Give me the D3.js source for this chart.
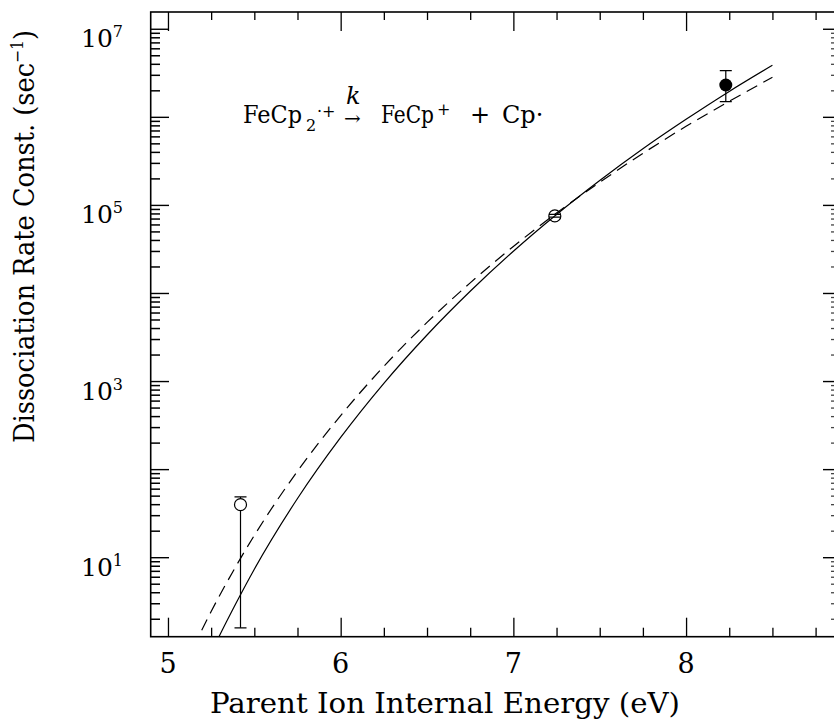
<!DOCTYPE html>
<html>
<head>
<meta charset="utf-8">
<script src="https://cdn.jsdelivr.net/npm/d3@7"></script>
<style>
  body { margin: 0; background: #fff; }
  text { font-family: "DejaVu Serif", serif; fill: #000; }
</style>
</head>
<body>
<script>
// Dissociation rate constant vs. internal energy (log y)
// ---------------------------------------------
var energy = [5.1, 5.25, 5.4, 5.5, 5.75, 6.0, 6.25, 6.5, 6.75, 7.0, 7.25, 7.5, 7.75, 8.0, 8.25, 8.5];
var solidK = [0.18, 0.83, 3.2, 7.4, 47, 232, 955, 3380, 1.06e4, 3.02e4, 7.9e4, 1.92e5, 4.4e5, 9.5e5, 1.97e6, 3.9e6];
var dashedK = [0.61, 2.45, 8.4, 17.9, 96, 411, 1490, 4690, 1.32e4, 3.42e4, 8.2e4, 1.83e5, 3.9e5, 7.9e5, 1.52e6, 2.85e6];

// measured points
var ptE = [5.42, 7.24, 8.23];
var ptK = [40, 7.6e4, 2.33e6];
var ptLo = [1.6, 7.35e4, 1.51e6];
var ptHi = [49, 7.9e4, 3.39e6];
var ptFilled = [false, false, true];

// ticks
var xMajor = [5, 6, 7, 8];
var xLabels = ['5', '6', '7', '8'];
var yMajor = [1e1, 1e2, 1e3, 1e4, 1e5, 1e6, 1e7];
var yDecades = [1, 1e1, 1e2, 1e3, 1e4, 1e5, 1e6, 1e7];
var yMult = [2, 3, 4, 5, 6, 7, 8, 9];
var yLabelExp = [1, 3, 5, 7];

var svgW = 834;
var svgH = 725;
var pLeft = 150.7, pRight = 841.5, pTop = 12, pBottom = 636.7;
var kLo = Math.pow(10, 0.103), kHi = Math.pow(10, 7.196);

var xs = d3.scaleLinear().domain([4.9, 8.9]).range([pLeft, pRight]);
var ys = d3.scaleLog().domain([kLo, kHi]).range([pBottom, pTop]);

var xMinor = d3.range(4.75, 9.0, 0.25).filter(function(d) {
  return d > 4.9 && d < 8.9 && xMajor.indexOf(d) < 0;
});
var yMinor = [];
yDecades.forEach(function(p) {
  yMult.forEach(function(mm) {
    var v = mm * p;
    if (v > kLo && v < kHi) yMinor.push(v);
  });
});

var svg = d3.select('body').append('svg').attr('width', svgW).attr('height', svgH);

svg.append('defs').append('clipPath').attr('id', 'plotclip')
  .append('rect').attr('x', pLeft).attr('y', pTop)
  .attr('width', pRight - pLeft).attr('height', pBottom - pTop);

// frame
svg.append('rect').attr('x', pLeft).attr('y', pTop)
  .attr('width', pRight - pLeft).attr('height', pBottom - pTop)
  .attr('fill', 'none').attr('stroke', '#000').attr('stroke-width', 1.6);

// x tick marks (inward, bottom and top)
function drawTicks(axisFn, scale, vals, size, tx, ty, col, sw) {
  var g = svg.append('g').attr('transform', 'translate(' + tx + ',' + ty + ')')
    .call(axisFn(scale).tickValues(vals).tickSizeInner(size).tickSizeOuter(0).tickFormat(function() { return ''; }));
  g.select('.domain').remove();
  g.selectAll('line').attr('stroke', col).attr('stroke-width', sw);
}
drawTicks(d3.axisBottom, xs, xMajor, -19, 0, pBottom, '#000', 1.3);
drawTicks(d3.axisBottom, xs, xMinor, -9, 0, pBottom, '#000', 1.3);
drawTicks(d3.axisTop, xs, xMajor, -19, 0, pTop, '#000', 1.3);
drawTicks(d3.axisTop, xs, xMinor, -8, 0, pTop, '#000', 1.3);

// x tick labels
svg.selectAll('text.xl').data(xMajor).enter().append('text')
  .attr('class', 'xl')
  .attr('x', function(d) { return xs(d); })
  .attr('y', 673)
  .attr('text-anchor', 'middle')
  .attr('font-size', '27px')
  .text(function(d, i) { return xLabels[i]; });

// y tick labels 10^n
var yl = svg.selectAll('text.yl').data(yLabelExp).enter().append('text')
  .attr('class', 'yl')
  .attr('x', 81)
  .attr('y', function(d) { return ys(Math.pow(10, d)) + 18; })
  .attr('font-size', '25px');
yl.append('tspan').text('10');
yl.append('tspan').attr('font-size', '16px').attr('dy', -10).text(function(d) { return d; });

// axis titles
svg.append('text')
  .attr('x', 210).attr('y', 713)
  .attr('font-size', '28px')
  .attr('textLength', 470).attr('lengthAdjust', 'spacingAndGlyphs')
  .text('Parent Ion Internal Energy (eV)');

var yt = svg.append('text')
  .attr('transform', 'translate(34,443) rotate(-90)')
  .attr('font-size', '28px')
  .attr('textLength', 413).attr('lengthAdjust', 'spacingAndGlyphs');
yt.append('tspan').text('Dissociation Rate Const. (sec');
yt.append('tspan').attr('font-size', '17px').attr('dy', -11).text('\u22121');
yt.append('tspan').attr('dy', 11).text(')');

// reaction annotation
var ann = svg.append('g').attr('font-size', '24px');
ann.append('text').attr('x', 243).attr('y', 123).attr('textLength', 59).attr('lengthAdjust', 'spacingAndGlyphs').text('FeCp');
ann.append('text').attr('x', 306).attr('y', 131).attr('font-size', '16px').text('2');
ann.append('text').attr('x', 317).attr('y', 117).attr('font-size', '16px').text('\u00b7+');
ann.append('text').attr('x', 346).attr('y', 104).attr('font-style', 'italic').text('k');
ann.append('text').attr('x', 344).attr('y', 125).attr('font-size', '20px').text('\u2192');
ann.append('text').attr('x', 381).attr('y', 123).attr('textLength', 53).attr('lengthAdjust', 'spacingAndGlyphs').text('FeCp');
ann.append('text').attr('x', 437).attr('y', 115).attr('font-size', '16px').text('+');
ann.append('text').attr('x', 480).attr('y', 123).attr('text-anchor', 'middle').text('+');
ann.append('text').attr('x', 502).attr('y', 123).text('Cp\u00b7');

// error bars
var pts = ptE.map(function(d, i) {
  return { e: d, k: ptK[i], lo: ptLo[i], hi: ptHi[i], filled: ptFilled[i] };
});
var plot = svg.append('g').attr('clip-path', 'url(#plotclip)');

plot.selectAll('line.err').data(pts).enter().append('line')
  .attr('x1', function(d) { return xs(d.e); })
  .attr('x2', function(d) { return xs(d.e); })
  .attr('y1', function(d) { return ys(d.lo); })
  .attr('y2', function(d) { return ys(d.hi); })
  .attr('stroke', '#000').attr('stroke-width', 1.2);

plot.selectAll('circle.open').data(pts.filter(function(d) { return !d.filled; })).enter().append('circle')
  .attr('cx', function(d) { return xs(d.e); })
  .attr('cy', function(d) { return ys(d.k); })
  .attr('r', 6)
  .attr('fill', '#fff').attr('stroke', '#000').attr('stroke-width', 1.2);

['lo', 'hi'].forEach(function(key) {
  plot.selectAll('line.cap' + key).data(pts).enter().append('line')
    .attr('x1', function(d) { return xs(d.e) - 6; })
    .attr('x2', function(d) { return xs(d.e) + 6; })
    .attr('y1', function(d) { return ys(d[key]); })
    .attr('y2', function(d) { return ys(d[key]); })
    .attr('stroke', '#000').attr('stroke-width', 1.2);
});

// model curves
var lineGen = d3.line()
  .x(function(d) { return xs(d[0]); })
  .y(function(d) { return ys(d[1]); })
  .curve(d3.curveMonotoneX);

plot.append('path')
  .attr('d', lineGen(energy.map(function(d, i) { return [d, solidK[i]]; })))
  .attr('fill', 'none').attr('stroke', '#000').attr('stroke-width', 1.2);

plot.append('path')
  .attr('d', lineGen(energy.map(function(d, i) { return [d, dashedK[i]]; })))
  .attr('fill', 'none').attr('stroke', '#000').attr('stroke-width', 1.2)
  .attr('stroke-dasharray', '12,7');

plot.selectAll('circle.fill').data(pts.filter(function(d) { return d.filled; })).enter().append('circle')
  .attr('cx', function(d) { return xs(d.e); })
  .attr('cy', function(d) { return ys(d.k); })
  .attr('r', 6.5)
  .attr('fill', '#000');

// y tick marks, left and right (separate line elements, drawn last)
function yTicks(cls, vals, x0, len, col, sw) {
  svg.append('g').attr('class', cls).selectAll('line').data(vals).enter().append('line')
    .attr('x1', x0).attr('x2', x0 + len)
    .attr('y1', function(d) { return ys(d); })
    .attr('y2', function(d) { return ys(d); })
    .attr('stroke', col).attr('stroke-width', sw);
}
yTicks('ymaj-l', yMajor, 150, 19, '#000', 1.4);
yTicks('ymin-l', yMinor, 150, 10, '#000', 1.5);
yTicks('ymaj-r', yMajor, 834, -11, '#000', 1.4);
yTicks('ymin-r', yMinor, 834, -3, '#444', 1.3);
</script>
</body>
</html>
